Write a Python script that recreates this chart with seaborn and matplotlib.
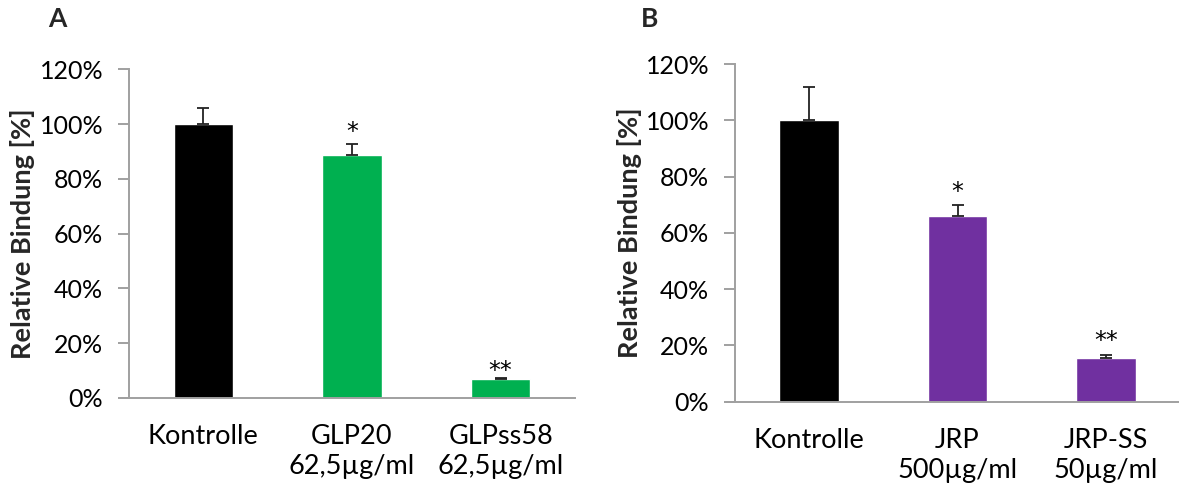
import matplotlib
matplotlib.use("Agg")
import matplotlib.pyplot as plt
import seaborn as sns
import numpy as np
from matplotlib.ticker import FuncFormatter

sns.set_theme(style="white")
plt.rcParams["font.family"] = ["Lato", "DejaVu Sans"]

# Panel A: GLP binding
cats_a = ["Kontrolle", "GLP20\n62,5µg/ml", "GLPss58\n62,5µg/ml"]
vals_a = [100.0, 88.6, 6.8]
errs_a = [5.8, 4.2, 0.6]
stars_a = ["", "*", "**"]
colors_a = ["#000000", "#00B050", "#00B050"]

# Panel B: JRP binding
cats_b = ["Kontrolle", "JRP\n500µg/ml", "JRP-SS\n50µg/ml"]
vals_b = [100.0, 66.0, 15.6]
errs_b = [11.9, 3.9, 1.0]
stars_b = ["", "*", "**"]
colors_b = ["#000000", "#7030A0", "#7030A0"]

yticks = [0, 20, 40, 60, 80, 100, 120]
ylabel = "Relative Bindung [%]"
axis_gray = "#A0A0A0"

fig = plt.figure(figsize=(11.79, 4.95), dpi=100)
ax_a = fig.add_axes([0.1094, 0.196, 0.3783, 0.664])
ax_b = fig.add_axes([0.6234, 0.1885, 0.3775, 0.682])


def draw_panel(ax, cats, vals, errs, stars, colors, letter, letter_x, star_offsets):
    sns.barplot(x=cats, y=vals, hue=cats, palette=colors, legend=False,
                width=0.4, saturation=1, ax=ax, order=cats, hue_order=cats)
    pos = np.arange(len(cats))
    ax.errorbar(pos, vals, yerr=[np.zeros(len(errs)), errs], fmt="none",
                ecolor="#222222", elinewidth=1.3, capsize=4.5, capthick=1.3)
    for x, v, e, s, off in zip(pos, vals, errs, stars, star_offsets):
        if s:
            ax.text(x, v + e + off, s, ha="center", va="center",
                    fontsize=17, color="#000000", family="DejaVu Sans")
    ax.set_xlim(-0.5, 2.5)
    ax.set_ylim(0, 120)
    ax.set_yticks(yticks)
    ax.yaxis.set_major_formatter(FuncFormatter(lambda v, p: f"{v:.0f}%"))
    ax.tick_params(axis="y", which="major", direction="out", length=8,
                   width=1.4, color=axis_gray, labelsize=18, pad=10.5,
                   labelcolor="#000000", left=True)
    ax.tick_params(axis="x", length=0, labelsize=19.5, pad=19,
                   labelcolor="#000000")
    for lbl in ax.get_xticklabels():
        lbl.set_linespacing(1.25)
    for side in ["top", "right"]:
        ax.spines[side].set_visible(False)
    for side in ["left", "bottom"]:
        ax.spines[side].set_color(axis_gray)
        ax.spines[side].set_linewidth(1.4)
    ax.spines["bottom"].set_bounds(-0.555, 2.5)
    ax.set_ylabel(ylabel, fontsize=19.5, fontweight="bold", labelpad=3)
    ax.set_xlabel("")
    ax.grid(False)
    fig.text(letter_x, 0.962, letter, fontsize=19, fontweight="bold",
             ha="center", va="center")


draw_panel(ax_a, cats_a, vals_a, errs_a, stars_a, colors_a, "A", 0.0485,
           [0, 4.2, 2.6])
draw_panel(ax_b, cats_b, vals_b, errs_b, stars_b, colors_b, "B", 0.5513,
           [0, 4.5, 4.8])

fig.savefig("out.png", dpi=100, facecolor="white")
